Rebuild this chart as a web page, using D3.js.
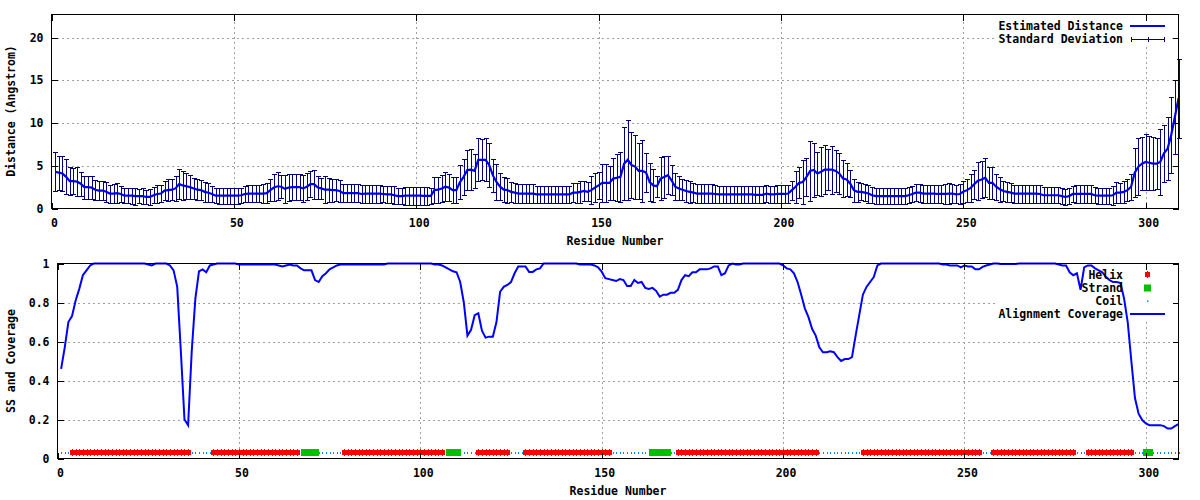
<!DOCTYPE html>
<html><head><meta charset="utf-8">
<script src="https://cdn.jsdelivr.net/npm/d3@7"></script>
<style>
body{margin:0;background:#fff}
text{font-family:"DejaVu Sans Mono","Liberation Mono",monospace;font-weight:bold;font-size:11.5px;fill:#000}
</style>
</head><body>
<svg id="c" width="1200" height="500"></svg>
<script>
// ---------------- DATA ----------------
const residues = d3.range(1, 310);
const distance = [
4.3,4.2,4.1,3.7,3.2,3.2,3.15,2.9,2.5,2.5,
2.45,2.2,2.1,2.1,1.95,1.75,1.75,1.8,1.7,1.5,
1.5,1.5,1.45,1.45,1.45,1.35,1.35,1.55,1.7,1.75,
2.1,2.15,2.2,2.35,2.85,2.7,2.6,2.5,2.35,2.2,
2.15,1.95,1.85,1.7,1.5,1.5,1.5,1.5,1.5,1.5,
1.5,1.55,1.7,1.75,1.75,1.75,1.75,1.75,1.8,2.15,
2.45,2.6,2.55,2.3,2.45,2.5,2.5,2.5,2.35,2.55,
2.85,2.85,2.45,2.35,2.2,2.2,2.15,2.15,2.05,1.8,
1.8,1.8,1.8,1.8,1.7,1.75,1.75,1.75,1.75,1.75,
1.7,1.65,1.65,1.55,1.45,1.45,1.5,1.5,1.5,1.5,
1.5,1.48,1.48,1.48,2.15,2.2,2.35,2.55,2.45,2.15,
2.15,3.1,3.7,4.5,4.55,4.4,5.7,5.7,5.7,5.1,
3.9,3.1,2.55,2.2,2.15,1.95,1.85,1.75,1.75,1.75,
1.75,1.75,1.65,1.65,1.65,1.65,1.65,1.65,1.65,1.65,
1.65,1.65,1.85,1.85,1.95,2.05,1.95,2.15,2.45,2.7,
3.0,3.0,3.0,3.5,3.6,3.7,5.25,5.7,5.1,4.9,
4.4,4.4,4.2,3.1,2.7,2.6,3.5,3.7,3.9,3.3,
2.55,2.35,2.2,2.05,1.95,1.85,1.75,1.75,1.75,1.75,
1.75,1.7,1.65,1.65,1.65,1.65,1.65,1.65,1.65,1.65,
1.65,1.65,1.6,1.6,1.6,1.75,1.65,1.65,1.7,1.7,
1.7,1.75,2.15,2.55,3.0,3.1,3.7,4.4,4.5,4.1,
4.3,4.55,4.55,4.55,4.4,4.1,3.5,3.4,2.9,2.15,
1.95,1.95,1.85,1.75,1.55,1.45,1.45,1.45,1.45,1.45,
1.45,1.45,1.45,1.45,1.55,1.7,1.85,1.85,1.75,1.75,
1.75,1.75,1.7,1.7,1.7,1.75,1.75,1.65,1.7,1.95,
2.15,2.4,2.85,3.25,3.4,3.6,3.0,3.0,2.55,2.25,
2.05,1.95,1.85,1.75,1.75,1.75,1.75,1.75,1.75,1.75,
1.7,1.55,1.55,1.55,1.55,1.55,1.45,1.35,1.45,1.7,
1.7,1.7,1.7,1.7,1.7,1.55,1.5,1.5,1.5,1.5,
1.55,1.85,1.85,1.95,2.15,2.55,4.2,4.9,5.25,5.45,
5.35,5.25,5.25,5.45,6.45,7.0,8.6,10.7,12.9
];
const stdev = [
2.3,2.0,2.1,2.05,1.6,1.55,1.65,1.4,1.35,1.35,
1.35,1.15,1.15,1.15,1.15,1.05,1.1,1.15,0.9,0.9,
0.9,0.95,1.0,0.85,0.9,0.85,0.9,0.95,1.0,0.95,
1.15,1.25,1.2,1.45,1.75,1.7,1.5,1.4,1.25,1.2,
1.15,1.2,1.1,0.95,0.9,0.95,0.95,0.95,0.95,0.95,
0.95,0.9,0.95,0.95,1.0,1.0,1.0,1.1,1.2,1.25,
1.6,1.65,1.35,1.6,1.6,1.5,1.5,1.5,1.55,1.55,
1.55,1.7,1.35,1.25,1.6,1.4,1.35,1.25,1.3,1.05,
1.05,1.05,1.05,1.05,1.0,1.05,1.05,1.05,1.05,1.05,
0.95,1.0,1.0,1.05,0.95,0.95,1.05,1.05,1.05,1.05,
1.05,1.05,1.05,0.95,1.55,1.5,1.6,1.7,1.55,1.5,
1.5,1.95,2.1,2.3,2.4,2.0,2.5,2.4,2.5,2.6,
1.95,2.1,1.6,1.45,1.45,1.2,1.15,1.1,1.1,1.1,
1.1,1.1,1.0,1.0,1.0,1.0,1.0,1.0,1.0,1.0,
1.0,1.0,1.1,1.15,1.3,1.2,1.1,1.65,1.7,1.55,
2.25,2.25,2.0,2.45,2.75,2.9,4.25,4.7,3.9,3.75,
3.3,3.65,2.25,2.25,1.9,1.25,2.55,2.5,2.2,1.75,
1.6,1.4,1.25,1.3,1.25,1.1,1.1,1.1,1.1,1.1,
1.1,1.0,1.0,1.0,1.0,1.0,1.0,1.0,1.0,1.0,
1.0,1.0,1.0,1.0,1.0,1.0,1.0,1.0,1.0,1.05,
1.05,1.05,1.1,1.85,1.8,2.6,2.25,3.55,3.2,2.55,
2.85,2.9,2.4,2.8,2.45,2.35,2.2,1.9,1.6,1.35,
1.15,1.0,1.0,1.05,0.95,0.95,0.95,0.95,0.95,0.95,
0.95,0.95,0.95,0.95,0.95,0.95,1.0,1.05,1.05,1.05,
1.05,1.05,1.05,1.1,1.15,1.2,1.15,1.05,1.2,1.25,
1.35,1.6,1.7,2.2,2.2,2.3,1.85,1.85,1.5,1.45,
1.2,1.15,1.1,1.05,1.05,1.05,1.05,1.05,1.05,1.05,
1.0,0.95,0.95,0.95,0.95,0.95,0.95,0.9,0.9,0.95,
1.0,1.0,1.0,1.0,1.0,0.95,0.95,0.95,0.95,0.95,
1.1,1.2,1.15,1.3,1.25,1.5,2.9,3.3,3.1,3.3,
3.15,3.1,3.0,3.85,3.35,3.7,4.4,4.35,4.65
];
const coverage = [
0.46,0.57,0.70,0.73,0.81,0.87,0.94,0.965,0.99,1.0,
1,1,1,1,1,1,1,1,1,1,
1,1,1,1,0.995,0.99,1,1,1,1,
0.99,0.965,0.88,0.55,0.2,0.17,0.55,0.82,0.96,0.97,
0.955,0.99,0.995,1,1,1,1,1,1,0.995,
0.995,0.995,0.995,0.995,0.995,0.995,0.995,0.995,0.995,0.995,
0.99,0.985,0.99,0.995,0.99,0.99,0.975,0.965,0.965,0.965,
0.915,0.905,0.935,0.95,0.97,0.98,0.99,0.995,0.995,0.995,
0.995,0.995,0.995,0.995,0.995,0.995,0.995,0.995,0.995,0.995,
1,1,1,1,1,1,1,1,1,1,
1,1,1,0.995,0.995,0.99,0.98,0.97,0.96,0.955,
0.905,0.80,0.63,0.66,0.735,0.745,0.655,0.62,0.625,0.625,
0.70,0.855,0.88,0.89,0.905,0.95,0.985,0.985,0.985,0.957,
0.957,0.97,0.975,1,1,1,1,1,1,1,
1,1,1,0.995,0.995,0.995,0.995,0.99,0.98,0.958,
0.925,0.92,0.915,0.91,0.92,0.915,0.885,0.885,0.915,0.90,
0.905,0.875,0.87,0.875,0.86,0.83,0.84,0.84,0.85,0.85,
0.865,0.915,0.94,0.935,0.955,0.955,0.97,0.97,0.97,0.975,
0.985,0.985,0.94,0.95,0.99,1,0.995,0.995,1,1,
1,1,1,1,1,1,1,1,1,0.99,
0.975,0.97,0.95,0.905,0.84,0.77,0.725,0.665,0.63,0.57,
0.545,0.545,0.55,0.545,0.52,0.50,0.51,0.51,0.52,0.63,
0.735,0.84,0.88,0.905,0.93,0.99,1,1,1,1,
1,1,1,1,1,1,1,1,1,1,
1,1,1,0.995,0.995,0.99,0.99,0.99,0.98,0.99,
0.985,0.985,0.97,0.97,0.983,0.99,0.995,1,1,0.997,
0.997,0.997,0.997,0.997,1,1,1,1,1,1,
1,1,1,1,1,0.995,0.99,0.99,0.955,0.94,
0.95,0.865,0.98,0.99,0.99,0.975,0.965,0.955,0.93,0.915,
0.905,0.905,0.90,0.82,0.70,0.50,0.31,0.23,0.197,0.18,
0.171,0.171,0.171,0.171,0.166,0.154,0.154,0.166,0.176
];
// secondary structure segments: [type, first residue, last residue]
const ssSegments = [
["C",1,3],["H",4,36],["C",37,42],["H",43,66],["C",67,67],["E",68,71],["C",72,78],
["H",79,106],["C",107,107],["E",108,110],["C",111,115],["H",116,124],["C",125,128],
["H",129,152],["C",153,163],["E",164,168],["C",169,170],["H",171,209],["C",210,221],
["H",222,254],["C",255,257],["H",258,280],["C",281,283],["H",284,296],["C",297,299],
["E",300,301],["C",302,309]
];
const ssY = 0.03;
const xTicks = [0,50,100,150,200,250,300];
const distTicks = [0,5,10,15,20];
const covTicks = [0,0.2,0.4,0.6,0.8,1];
const covTickLabels = ["0","0.2","0.4","0.6","0.8","1"];
const topLegend = ["Estimated Distance","Standard Deviation"];
const botLegend = ["Helix","Strand","Coil","Alignment Coverage"];

// ---------------- DRAW ----------------
const svg = d3.select("#c");
svg.append("rect").attr("width",1200).attr("height",500).attr("fill","#fff");

const gridColor = "#a0a0a0";
const lineBlue = "#0000ff";
const barNavy = "#000080";
const coilBlue = "#0a84ff";

function frame(x, y, xT, gridY) {
  const [x0,x1] = x.range(), [y0,y1] = y.range();
  const g = svg.append("g");
  gridY.forEach(v => g.append("line").attr("x1",x0).attr("x2",x1).attr("y1",Math.round(y(v))+0.5).attr("y2",Math.round(y(v))+0.5)
      .attr("stroke",gridColor).attr("stroke-dasharray","2,3").attr("shape-rendering","crispEdges"));
  xT.filter(v=>v>0).forEach(v => g.append("line").attr("x1",Math.round(x(v))+0.5).attr("x2",Math.round(x(v))+0.5).attr("y1",y0).attr("y2",y1)
      .attr("stroke",gridColor).attr("stroke-dasharray","2,3").attr("shape-rendering","crispEdges"));
  return g;
}
function axes(x, y, xT, yT, yFmt) {
  const [x0,x1] = x.range(), [y0,y1] = y.range();
  const style = sel => {
    sel.select(".domain").remove();
    sel.selectAll("line").attr("shape-rendering","crispEdges");
    sel.attr("font-family",null).attr("font-size",null);
  };
  svg.append("g").attr("transform",`translate(0,${y0})`)
    .call(d3.axisBottom(x).tickValues(xT).tickSize(-6).tickPadding(10)).call(style)
    .selectAll("text").attr("dx","2.5");
  svg.append("g").attr("transform",`translate(0,${y1})`)
    .call(d3.axisTop(x).tickValues(xT).tickSize(-6).tickFormat("")).call(style);
  svg.append("g").attr("transform",`translate(${x0},0)`)
    .call(d3.axisLeft(y).tickValues(yT).tickSize(-6).tickPadding(8).tickFormat(yFmt)).call(style);
  svg.append("g").attr("transform",`translate(${x1},0)`)
    .call(d3.axisRight(y).tickValues(yT).tickSize(-6).tickFormat("")).call(style);
  svg.append("rect").attr("x",x0).attr("y",y1).attr("width",x1-x0).attr("height",y0-y1)
    .attr("fill","none").attr("stroke","#000").attr("shape-rendering","crispEdges");
}

// ===== Top panel =====
const x1 = d3.scaleLinear().domain([0,309]).range([51.5,1178.5]);
const y1 = d3.scaleLinear().domain([0,22.7]).range([208.5,14.5]);
frame(x1, y1, xTicks, distTicks.filter(v=>v>0));
svg.append("rect").attr("x",995).attr("y",15).attr("width",177).attr("height",30).attr("fill","#fff");

const eb = svg.append("g").attr("stroke",barNavy).attr("stroke-width",1).attr("shape-rendering","crispEdges");
residues.forEach((r,i) => {
  const cx = Math.round(x1(r))+0.5;
  const lo = y1(distance[i]-stdev[i]), hi = y1(distance[i]+stdev[i]);
  eb.append("line").attr("x1",cx).attr("x2",cx).attr("y1",lo).attr("y2",hi);
  eb.append("line").attr("x1",cx-2.5).attr("x2",cx+2.5).attr("y1",Math.round(lo)+0.5).attr("y2",Math.round(lo)+0.5);
  eb.append("line").attr("x1",cx-2.5).attr("x2",cx+2.5).attr("y1",Math.round(hi)+0.5).attr("y2",Math.round(hi)+0.5);
});
svg.append("path").datum(residues)
  .attr("d", d3.line().x(r=>x1(r)).y((r,i)=>y1(distance[i])))
  .attr("fill","none").attr("stroke","#0000e6").attr("stroke-width",2.2);
axes(x1, y1, xTicks, distTicks, d3.format("d"));

// top legend
svg.append("text").attr("x",1123).attr("y",26).attr("text-anchor","end").attr("dominant-baseline","central").text(topLegend[0]);
svg.append("line").attr("x1",1130).attr("x2",1165).attr("y1",26).attr("y2",26).attr("stroke",lineBlue).attr("stroke-width",2);
svg.append("text").attr("x",1123).attr("y",39).attr("text-anchor","end").attr("dominant-baseline","central").text(topLegend[1]);
const lg = svg.append("g").attr("stroke",barNavy).attr("shape-rendering","crispEdges");
lg.append("line").attr("x1",1131).attr("x2",1165).attr("y1",39.5).attr("y2",39.5);
[1131.5,1148.5,1164.5].forEach(x => lg.append("line").attr("x1",x).attr("x2",x).attr("y1",37).attr("y2",42));

svg.append("text").attr("transform","translate(11,111) rotate(-90)").attr("text-anchor","middle")
  .attr("dominant-baseline","central").text("Distance (Angstrom)");
svg.append("text").attr("x",615).attr("y",241).attr("text-anchor","middle").attr("dominant-baseline","central").text("Residue Number");

// ===== Bottom panel =====
const x2 = d3.scaleLinear().domain([0,309]).range([57.5,1178.5]);
const y2 = d3.scaleLinear().domain([0,1]).range([458.5,263.5]);
frame(x2, y2, xTicks, covTicks.filter(v=>v>0 && v<1));
svg.append("rect").attr("x",995).attr("y",264).attr("width",177).attr("height",57).attr("fill","#fff");

const ss = [];
ssSegments.forEach(([t,a,b]) => { for (let r=a; r<=b; r++) ss.push({r, t}); });
const ssg = svg.append("g").attr("shape-rendering","crispEdges");
const sy = Math.round(y2(ssY));
ss.filter(d=>d.t==="C").forEach(d => {
  const cx = Math.round(x2(d.r));
  ssg.append("rect").attr("x",cx-0.5).attr("y",sy-1).attr("width",1.5).attr("height",1.5).attr("fill",coilBlue);
});
ss.filter(d=>d.t==="H").forEach(d => {
  const cx = Math.round(x2(d.r));
  ssg.append("rect").attr("x",cx-2).attr("y",sy-3).attr("width",5).attr("height",5).attr("fill","#ff0000");
  ssg.append("rect").attr("x",cx).attr("y",sy-4).attr("width",1).attr("height",7).attr("fill","#ff0000");
});
ss.filter(d=>d.t==="E").forEach(d => {
  const cx = Math.round(x2(d.r));
  ssg.append("rect").attr("x",cx-3).attr("y",sy-4).attr("width",7).attr("height",7).attr("fill","#00c000");
});

svg.append("path").datum(residues)
  .attr("d", d3.line().x(r=>x2(r)).y((r,i)=>y2(coverage[i])))
  .attr("fill","none").attr("stroke",lineBlue).attr("stroke-width",2);
axes(x2, y2, xTicks, covTicks, (d,i)=>covTickLabels[i]);

// bottom legend
const lyB = [274.5,288,301,314];
botLegend.forEach((t,i) => svg.append("text").attr("x",1123).attr("y",lyB[i]).attr("text-anchor","end").attr("dominant-baseline","central").text(t));
svg.append("rect").attr("x",1145).attr("y",272).attr("width",5).attr("height",5).attr("fill","#ff0000");
svg.append("rect").attr("x",1147).attr("y",271).attr("width",1).attr("height",7).attr("fill","#ff0000");
svg.append("rect").attr("x",1144).attr("y",284.5).attr("width",7).attr("height",7).attr("fill","#00c000");
svg.append("rect").attr("x",1147).attr("y",300.5).attr("width",1.5).attr("height",1.5).attr("fill",coilBlue);
svg.append("line").attr("x1",1130).attr("x2",1165).attr("y1",lyB[3]).attr("y2",lyB[3]).attr("stroke",lineBlue).attr("stroke-width",2);

svg.append("text").attr("transform","translate(11,361) rotate(-90)").attr("text-anchor","middle")
  .attr("dominant-baseline","central").text("SS and Coverage");
svg.append("text").attr("x",618).attr("y",491).attr("text-anchor","middle").attr("dominant-baseline","central").text("Residue Number");
</script>
</body></html>
